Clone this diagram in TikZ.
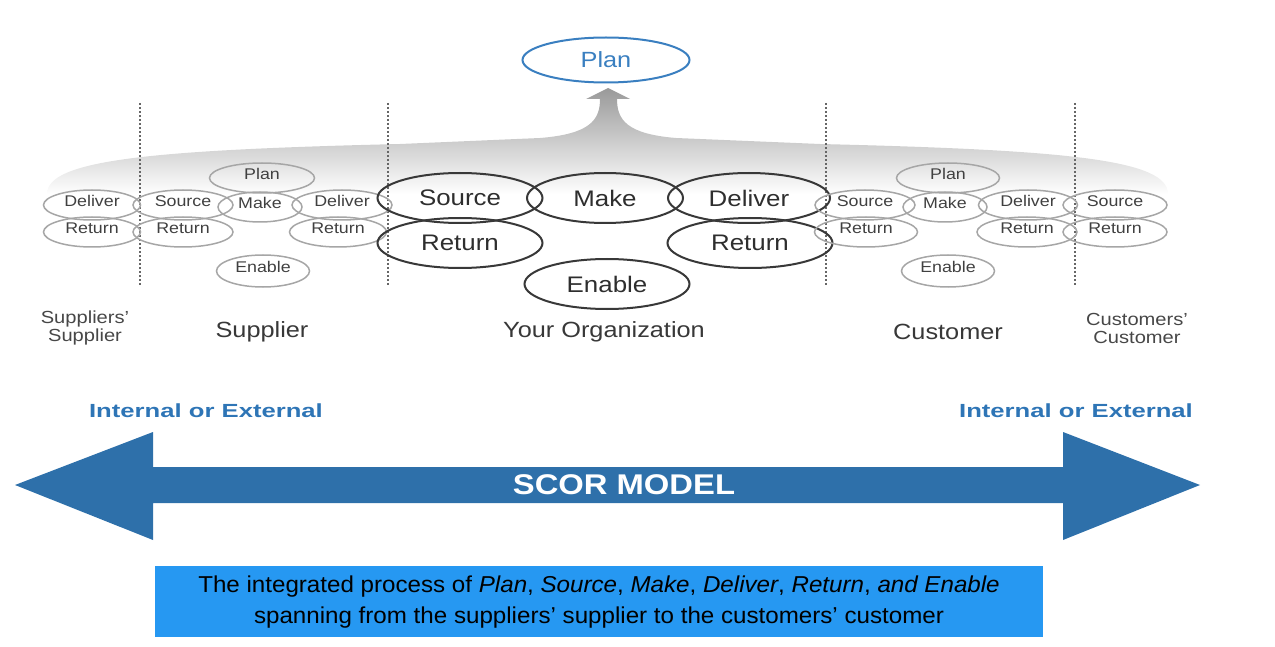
\documentclass[tikz,border=0pt]{standalone}
\usepackage{fontspec}
\setmainfont{Liberation Sans}[FakeStretch=1.15]
\newfontfamily\boxfont{Liberation Sans}[FakeStretch=1.05]
\newfontfamily\widefont{Liberation Sans}[FakeStretch=1.35]
\usetikzlibrary{shapes.geometric}
\definecolor{arrowblue}{RGB}{46,112,170}
\definecolor{boxblue}{RGB}{38,152,242}
\definecolor{labblue}{RGB}{46,117,182}
\definecolor{planblue}{RGB}{58,127,192}
\tikzset{
  sm/.style={ellipse, draw=black!35, line width=1.5pt, text=black!75, inner sep=0pt,
    font=\fontsize{15.5}{15.5}\selectfont, text height=9pt, text depth=6pt},
  bg/.style={ellipse, draw=black!78, line width=2pt, text=black!82, inner sep=0pt,
    font=\fontsize{22.5}{22.5}\selectfont, minimum height=50pt},
  zone/.style={text=black!78, align=center, font=\fontsize{22}{24}\selectfont},
  zonesm/.style={text=black!72, align=center, font=\fontsize{17.5}{18}\selectfont},
  divider/.style={black!60, line width=1.5pt, dash pattern=on 2pt off 2pt},
  ioe/.style={text=labblue, font=\widefont\bfseries\fontsize{19}{19}\selectfont},
}
\begin{document}
\begin{tikzpicture}[x=1pt,y=-1pt]
\path[use as bounding box] (0,0) rectangle (1275,647);

% gray fan with arrow up to Plan
\path[top color=black!40, bottom color=white]
  (47,194) .. controls (47,160) and (150,150) .. (400,144)
  -- (540,138) .. controls (590,134) and (600,120) .. (600,99)
  -- (586,99) -- (608,88) -- (630,99) -- (617,99)
  .. controls (617,120) and (627,134) .. (676,138)
  -- (820,144) .. controls (1070,150) and (1168,160) .. (1168,194) -- cycle;

% top plan
\node[ellipse, draw=planblue, line width=2pt, text=planblue, inner sep=0pt,
  minimum width=167pt, minimum height=45pt, font=\fontsize{22}{22}\selectfont] (topplan) at (606,60) {Plan};

% dividers
\foreach \x/\n in {140/a,388/b,826/c,1075/d}{
  \coordinate (\n t) at (\x,103);
  \coordinate (\n b) at (\x,286);
  \draw[divider] (\n t) -- (\n b);
}

% suppliers' supplier
\node[sm, minimum width=97pt, minimum height=30pt] (ssD) at (92,205) {Deliver};
\node[sm, minimum width=97pt, minimum height=30pt] (ssR) at (92,232) {Return};
% supplier
\node[sm, minimum width=100pt, minimum height=30pt] (sS) at (183,205) {Source};
\node[sm, minimum width=100pt, minimum height=30pt] (sR) at (183,232) {Return};
\node[sm, minimum width=105pt, minimum height=30pt] (sP) at (262,178) {Plan};
\node[sm, minimum width=84pt, minimum height=30pt] (sM) at (260,207) {Make};
\node[sm, minimum width=100pt, minimum height=30pt] (sD) at (342,205) {Deliver};
\node[sm, minimum width=97pt, minimum height=30pt] (sR2) at (338,232) {Return};
\node[sm, minimum width=93pt, minimum height=32pt] (sE) at (263,271) {Enable};
% your organization
\node[bg, minimum width=165pt] (oS) at (460,198) {Source};
\node[bg, minimum width=156pt] (oM) at (605,198) {Make};
\node[bg, minimum width=162pt] (oD) at (749,198) {Deliver};
\node[bg, minimum width=165pt] (oR1) at (460,243) {Return};
\node[bg, minimum width=165pt] (oR2) at (750,243) {Return};
\node[bg, minimum width=165pt] (oE) at (607,284) {Enable};
% customer
\node[sm, minimum width=100pt, minimum height=30pt] (cS) at (865,205) {Source};
\node[sm, minimum width=103pt, minimum height=30pt] (cR) at (866,232) {Return};
\node[sm, minimum width=103pt, minimum height=30pt] (cP) at (948,178) {Plan};
\node[sm, minimum width=84pt, minimum height=30pt] (cM) at (945,207) {Make};
\node[sm, minimum width=99pt, minimum height=30pt] (cD) at (1028,205) {Deliver};
\node[sm, minimum width=100pt, minimum height=30pt] (cR2) at (1027,232) {Return};
\node[sm, minimum width=93pt, minimum height=32pt] (cE) at (948,271) {Enable};
% customers' customer
\node[sm, minimum width=104pt, minimum height=30pt] (ccS) at (1115,205) {Source};
\node[sm, minimum width=104pt, minimum height=30pt] (ccR) at (1115,232) {Return};

% zone labels
\node[zonesm] (zss) at (85,328) {Suppliers’\\Supplier};
\node[zone] (zs) at (262,332) {Supplier};
\node[zone] (zo) at (604,332) {Your Organization};
\node[zone] (zc) at (948,332) {Customer};
\node[zonesm] (zcc) at (1137,328) {Customers’\\Customer};

% internal or external
\node[ioe] (ioeL) at (206,411) {Internal or External};
\node[ioe] (ioeR) at (1076,411) {Internal or External};

% SCOR double arrow
\fill[arrowblue] (15,485) -- (153,432) -- (153,467) -- (1063,467) -- (1063,432)
  -- (1200,485) -- (1063,540) -- (1063,503) -- (153,503) -- (153,540) -- cycle;
\node[text=white, font=\bfseries\fontsize{28.5}{28.5}\selectfont] (scor) at (624,485) {SCOR MODEL};

% description box
\fill[boxblue] (155,566) rectangle (1043,637);
\node[align=center, text=black, font=\boxfont\fontsize{23}{31}\selectfont] (desc) at (599,602)
  {The integrated process of \textit{Plan}, \textit{Source}, \textit{Make}, \textit{Deliver}, \textit{Return}, \textit{and Enable}\\
   spanning from the suppliers’ supplier to the customers’ customer};
\end{tikzpicture}
\end{document}
